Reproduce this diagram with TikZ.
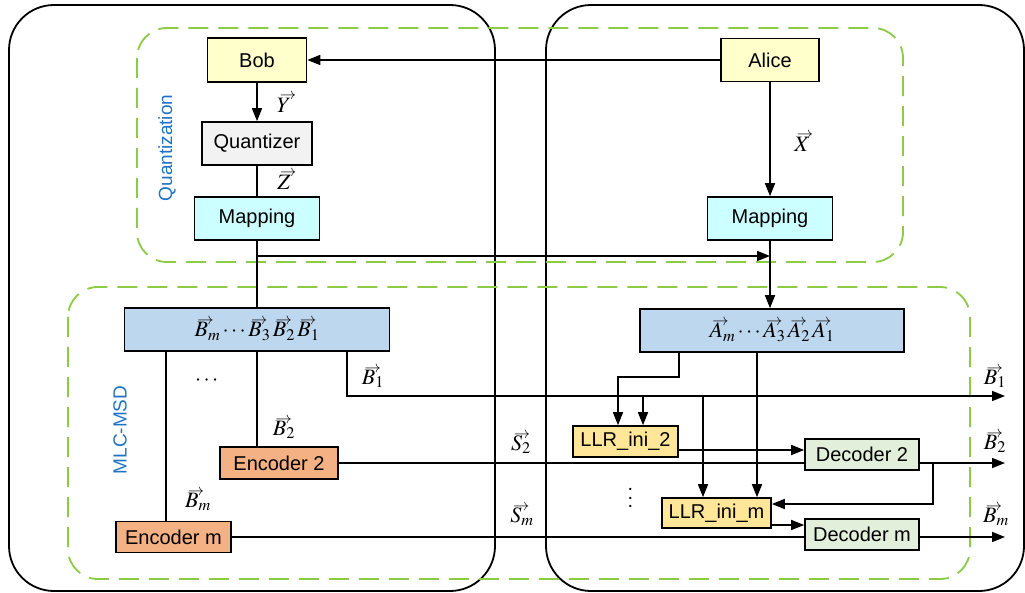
\documentclass[tikz,border=0pt]{standalone}
\usepackage{amsmath}
\usepackage{mathptmx}
\usepackage{fontspec}
\setmainfont{Liberation Sans}
\usetikzlibrary{arrows.meta}

\definecolor{userfill}{HTML}{FFFFCC}
\definecolor{quantfill}{HTML}{F2F2F2}
\definecolor{mapfill}{HTML}{CCFFFF}
\definecolor{bitfill}{HTML}{BDD7EE}
\definecolor{encfill}{HTML}{F4B183}
\definecolor{llrfill}{HTML}{FFE699}
\definecolor{decfill}{HTML}{E2EFDA}
\definecolor{grpgreen}{HTML}{8CCB45}
\definecolor{grpblue}{HTML}{1F72C4}

\tikzset{
  blk/.style={draw, line width=1.6pt, inner sep=0pt, font=\fontsize{20}{23}\selectfont},
  arr/.style={-{Triangle[length=13pt,width=10pt]}},
  grp/.style={draw=grpgreen, line width=1.8pt, dash pattern=on 20pt off 10pt, rounded corners=30pt},
  side/.style={draw, line width=1.8pt, rounded corners=45pt},
  lbl/.style={font=\fontsize{22}{25}\selectfont},
  grplbl/.style={text=grpblue, rotate=90, font=\fontsize{19}{22}\selectfont},
}

% arrow over the letter only, subscript kept in place
\newcommand{\vv}[1]{\rlap{\raisebox{0.56em}{$\scriptstyle\mkern3mu\rightarrow$}}#1}
\newcommand{\vvs}[2]{\vv{#1}_{#2}}

\begin{document}
\begin{tikzpicture}[x=1pt, y=-1pt, line width=1.6pt]
  \useasboundingbox (0,0) rectangle (1025,593);

  % the two sides
  \draw[side] (9,5) rectangle (495,591);
  \draw[side] (546,5) rectangle (1024,591);

  % groups
  \draw[grp] (137,28) rectangle (903,262);
  \draw[grp] (68,287) rectangle (970,579);
  \node[grplbl] (qlbl) at (167,148) {Quantization};
  \node[grplbl] (mlbl) at (120,430) {MLC-MSD};

  % quantization part
  \node[blk, fill=userfill, minimum width=99pt, minimum height=44pt] (bob) at (257,60) {Bob};
  \node[blk, fill=userfill, minimum width=98pt, minimum height=43pt] (alice) at (770,60) {Alice};
  \node[blk, fill=quantfill, minimum width=110pt, minimum height=43pt] (quant) at (257,143.5) {Quantizer};
  \node[blk, fill=mapfill, minimum width=125pt, minimum height=43pt] (mapB) at (257,218.5) {Mapping};
  \node[blk, fill=mapfill, minimum width=125pt, minimum height=43pt] (mapA) at (770,218.5) {Mapping};

  % bit vectors
  \node[blk, fill=bitfill, minimum width=265pt, minimum height=43pt] (bvec) at (257,329.5)
    {\fontsize{22}{25}\selectfont $\vvs{B}{m}\cdots\vvs{B}{3}\,\vvs{B}{2}\,\vvs{B}{1}$};
  \node[blk, fill=bitfill, minimum width=264pt, minimum height=43pt] (avec) at (772,330.5)
    {\fontsize{22}{25}\selectfont $\vvs{A}{m}\cdots\vvs{A}{3}\,\vvs{A}{2}\,\vvs{A}{1}$};

  % encoders, llr and decoders
  \node[blk, fill=encfill, minimum width=118pt, minimum height=32pt] (enc2) at (279,463) {Encoder 2};
  \node[blk, fill=encfill, minimum width=115pt, minimum height=31pt] (encm) at (173.5,537) {Encoder m};
  \node[blk, fill=llrfill, minimum width=105pt, minimum height=31pt] (llr2) at (625.5,441.5) {LLR\_ini\_2};
  \node[blk, fill=llrfill, minimum width=109pt, minimum height=30pt] (llrm) at (716.5,513) {LLR\_ini\_m};
  \node[blk, fill=decfill, minimum width=114pt, minimum height=31pt] (dec2) at (862,454.5) {Decoder 2};
  \node[blk, fill=decfill, minimum width=114pt, minimum height=31pt] (decm) at (862,534.5) {Decoder m};

  \coordinate (outB1) at (1005,396);
  \coordinate (outB2) at (1005,463);
  \coordinate (outBm) at (1005,537);
  \coordinate (tap) at (257,256);

  % top connectors
  \draw[arr] (alice) -- (bob);
  \draw[arr] (bob) -- (quant);
  \draw (quant) -- (mapB);
  \draw[arr] (alice) -- (mapA);
  \draw (mapB) -- (bvec);
  \draw[arr] (tap) -- (tap -| mapA);
  \draw[arr] (mapA.south) -- (mapA.south |- avec.north);

  % encoder side
  \draw (bvec.south -| 166,0) -- (encm.north -| 166,0);
  \draw (bvec.south -| 257,0) -- (enc2.north -| 257,0);
  \draw[arr] (bvec.south -| 347,0) |- (outB1);
  \draw (enc2.east) -- (enc2.east -| dec2.west);
  \draw (encm.east) -- (encm.east -| decm.west);
  \draw[arr] (dec2.east |- outB2) -- (outB2);
  \draw[arr] (decm.east |- outBm) -- (outBm);

  % decoder side
  \draw[arr] (avec.south -| 679,0) |- (618,377) -- (llr2.north -| 618,0);
  \draw[arr] (643,396) -- (llr2.north -| 643,0);
  \draw[arr] (703,396) -- (llrm.north -| 703,0);
  \draw[arr] (avec.south -| 757,0) -- (llrm.north -| 757,0);
  \draw[arr] (llr2.east |- 0,450) -- (dec2.west |- 0,450);
  \draw[arr] (933,463) |- (llrm.east |- 0,504);
  \draw[arr] (llrm.east |- 0,525) -- (decm.west |- 0,525);

  % vector labels
  \node[lbl] (ly) at (284,103) {$\vv{Y}$};
  \node[lbl] (lz) at (284,180) {$\vv{Z}$};
  \node[lbl] (lx) at (802,142) {$\vv{X}$};
  \node[lbl] (lb1) at (373,377) {$\vvs{B}{1}$};
  \node[lbl] (lb2) at (284,428) {$\vvs{B}{2}$};
  \node[lbl] (lbm) at (198,500) {$\vvs{B}{m}$};
  \node[lbl] (ls2) at (521,443) {$\vvs{S}{2}$};
  \node[lbl] (lsm) at (522,515) {$\vvs{S}{m}$};
  \node[lbl] (ob1) at (995,377) {$\vvs{B}{1}$};
  \node[lbl] (ob2) at (995,442) {$\vvs{B}{2}$};
  \node[lbl] (obm) at (996,515) {$\vvs{B}{m}$};
  \node[lbl] (hdots) at (208,381) {$\cdots$};
  \node[lbl, rotate=90] (vdots) at (631,497) {$\cdots$};
\end{tikzpicture}
\end{document}
